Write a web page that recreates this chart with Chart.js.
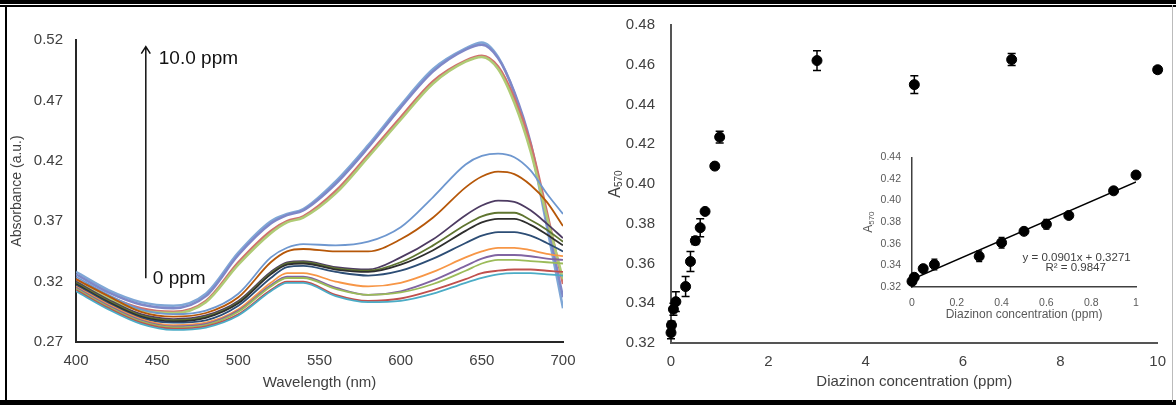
<!DOCTYPE html>
<html>
<head>
<meta charset="utf-8">
<script src="https://cdn.jsdelivr.net/npm/chart.js@4.4.0/dist/chart.umd.min.js"></script>
<style>
  body { margin: 0; background: #fff; }
  #wrap { position: relative; width: 1176px; height: 405px; overflow: hidden; background: #fff; }
  canvas { position: absolute; }
  .rule { position: absolute; background: #000; z-index: 5; }
</style>
</head>
<body>
<div id="wrap">
  <canvas id="spectra" width="590" height="405" style="left:0;top:0"></canvas>
  <canvas id="response" width="586" height="405" style="left:590px;top:0"></canvas>
  <canvas id="inset" width="300" height="185" style="left:855px;top:140px"></canvas>
  <div class="rule" style="left:0;top:0;width:1176px;height:4px"></div>
  <div class="rule" style="left:0;top:5px;width:1176px;height:2px"></div>
  <div class="rule" style="left:5px;top:5px;width:2px;height:397px"></div>
  <div class="rule" style="left:0;top:400px;width:1176px;height:5px"></div>
  <div class="rule" style="left:1172px;top:5px;width:1px;height:397px;background:#bbb"></div>
</div>
<script>
// wavelengths (nm) sampled along each spectrum
var wl = [400, 420, 440, 460, 480, 500, 520, 530, 540, 560, 580, 600, 620, 640, 650, 660, 670, 680, 690, 700];

// absorbance spectra, one array per diazinon concentration
var s0    = [0.312, 0.297, 0.285, 0.280, 0.282, 0.292, 0.312, 0.319, 0.319, 0.308, 0.303, 0.304, 0.310, 0.319, 0.323, 0.326, 0.327, 0.327, 0.326, 0.325];
var s001  = [0.313, 0.298, 0.286, 0.281, 0.283, 0.293, 0.313, 0.320, 0.320, 0.309, 0.304, 0.306, 0.313, 0.322, 0.327, 0.329, 0.330, 0.330, 0.329, 0.328];
var s005  = [0.314, 0.299, 0.287, 0.282, 0.284, 0.295, 0.316, 0.323, 0.323, 0.314, 0.309, 0.311, 0.318, 0.329, 0.335, 0.338, 0.338, 0.337, 0.336, 0.335];
var s01   = [0.315, 0.300, 0.288, 0.283, 0.285, 0.296, 0.317, 0.324, 0.324, 0.315, 0.309, 0.312, 0.321, 0.333, 0.339, 0.342, 0.342, 0.341, 0.339, 0.338];
var s03   = [0.316, 0.301, 0.289, 0.284, 0.286, 0.297, 0.319, 0.327, 0.327, 0.320, 0.316, 0.319, 0.328, 0.340, 0.345, 0.348, 0.348, 0.346, 0.343, 0.341];
var s04   = [0.317, 0.302, 0.290, 0.286, 0.288, 0.300, 0.323, 0.332, 0.333, 0.328, 0.325, 0.329, 0.339, 0.352, 0.358, 0.361, 0.361, 0.358, 0.352, 0.345];
var s05   = [0.318, 0.303, 0.291, 0.287, 0.290, 0.302, 0.326, 0.334, 0.335, 0.330, 0.328, 0.334, 0.346, 0.362, 0.369, 0.372, 0.372, 0.367, 0.359, 0.350];
var s06   = [0.319, 0.304, 0.292, 0.288, 0.291, 0.303, 0.327, 0.335, 0.336, 0.331, 0.329, 0.336, 0.350, 0.367, 0.374, 0.377, 0.377, 0.371, 0.363, 0.353];
var s07   = [0.320, 0.305, 0.293, 0.289, 0.292, 0.304, 0.328, 0.336, 0.337, 0.332, 0.330, 0.340, 0.355, 0.375, 0.383, 0.387, 0.386, 0.379, 0.368, 0.356];
var s09   = [0.322, 0.308, 0.295, 0.291, 0.294, 0.307, 0.336, 0.345, 0.347, 0.345, 0.345, 0.355, 0.373, 0.398, 0.407, 0.411, 0.409, 0.400, 0.386, 0.366];
var s1    = [0.324, 0.309, 0.297, 0.293, 0.296, 0.310, 0.340, 0.348, 0.351, 0.350, 0.353, 0.365, 0.390, 0.417, 0.424, 0.426, 0.423, 0.412, 0.393, 0.376];
var s3    = [0.320, 0.306, 0.296, 0.294, 0.303, 0.334, 0.360, 0.369, 0.373, 0.393, 0.423, 0.454, 0.484, 0.502, 0.506, 0.496, 0.468, 0.428, 0.374, 0.322];
var s5    = [0.322, 0.308, 0.298, 0.295, 0.304, 0.336, 0.362, 0.370, 0.374, 0.395, 0.425, 0.456, 0.486, 0.503, 0.507, 0.498, 0.472, 0.434, 0.378, 0.318];
var s7    = [0.326, 0.311, 0.301, 0.298, 0.308, 0.342, 0.368, 0.375, 0.379, 0.401, 0.431, 0.464, 0.494, 0.512, 0.516, 0.505, 0.477, 0.435, 0.371, 0.307];
var s10   = [0.328, 0.313, 0.303, 0.300, 0.310, 0.344, 0.370, 0.376, 0.380, 0.403, 0.433, 0.466, 0.496, 0.513, 0.518, 0.506, 0.476, 0.432, 0.366, 0.298];

var spectra = [s0, s001, s005, s01, s03, s04, s05, s06, s07, s09, s1, s3, s5, s7, s10];
var spectraLabels = ['0', '0.01', '0.05', '0.1', '0.3', '0.4', '0.5', '0.6', '0.7', '0.9', '1', '3', '5', '7', '10'];
var lineColors = ['#4BACC6', '#C0504D', '#9BBB59', '#8064A2', '#F79646', '#2C4D75', '#2E2E2E', '#5F7530', '#4D3B62',
                  '#B65708', '#6E97CF', '#AFCB75', '#D0706E', '#7F88C8', '#7FA7D6'];
var yTicksSpectra = [0.27, 0.32, 0.37, 0.42, 0.47, 0.52];

// A570 response vs. concentration, with standard deviations
var conc = [0, 0.01, 0.05, 0.1, 0.3, 0.4, 0.5, 0.6, 0.7, 0.9, 1, 3, 5, 7, 10];
var a570 = [0.3252, 0.3290, 0.3370, 0.3408, 0.3484, 0.3610, 0.3715, 0.3780, 0.3862, 0.4090, 0.4236, 0.4621, 0.4500, 0.4626, 0.4575];
var sd   = [0.003, 0.002, 0.003, 0.005, 0.005, 0.005, 0.002, 0.0045, 0.001, 0.001, 0.003, 0.005, 0.0045, 0.003, 0.0015];
var yTicksResponse = [0.32, 0.34, 0.36, 0.38, 0.40, 0.42, 0.44, 0.46, 0.48];
var yTicksInset = [0.32, 0.34, 0.36, 0.38, 0.40, 0.42, 0.44];

// linear fit over 0-1 ppm
var slope = 0.0901, intercept = 0.3271, r2 = 0.9847;

Chart.defaults.font.family = '"Liberation Sans", Arial, sans-serif';
Chart.defaults.animation = false;

var errorBars = {
  id: 'errorBars',
  afterDatasetsDraw: function (chart, args, opts) {
    var ds = chart.data.datasets[0];
    if (!ds.errors) return;
    var ctx = chart.ctx, x = chart.scales.x, y = chart.scales.y;
    ctx.save();
    ctx.strokeStyle = '#000';
    ctx.lineWidth = opts.width;
    ds.data.forEach(function (p, i) {
      var e = ds.errors[i];
      var px = x.getPixelForValue(p.x);
      var top = y.getPixelForValue(p.y + e), bot = y.getPixelForValue(p.y - e);
      ctx.beginPath();
      ctx.moveTo(px, top); ctx.lineTo(px, bot);
      ctx.moveTo(px - opts.cap, top); ctx.lineTo(px + opts.cap, top);
      ctx.moveTo(px - opts.cap, bot); ctx.lineTo(px + opts.cap, bot);
      ctx.stroke();
    });
    ctx.restore();
  }
};

// rotated "A" with a subscript, used as y-axis title
var subTitle = {
  id: 'subTitle',
  afterDraw: function (chart, args, o) {
    var ctx = chart.ctx, area = chart.chartArea;
    ctx.save();
    ctx.fillStyle = o.color;
    ctx.font = o.size + 'px "Liberation Sans", Arial, sans-serif';
    var wMain = ctx.measureText(o.text).width;
    ctx.font = o.subSize + 'px "Liberation Sans", Arial, sans-serif';
    var wSub = ctx.measureText(o.sub).width;
    ctx.translate(area.left - o.dx, (area.top + area.bottom) / 2);
    ctx.rotate(-Math.PI / 2);
    ctx.textBaseline = 'alphabetic';
    ctx.textAlign = 'left';
    var u = -(wMain + wSub) / 2;
    ctx.font = o.size + 'px "Liberation Sans", Arial, sans-serif';
    ctx.fillText(o.text, u, 0);
    ctx.font = o.subSize + 'px "Liberation Sans", Arial, sans-serif';
    ctx.fillText(o.sub, u + wMain, o.drop);
    ctx.restore();
  }
};

// concentration arrow on the spectra panel
var arrowNote = {
  id: 'arrowNote',
  afterDraw: function (chart) {
    var ctx = chart.ctx, x = chart.scales.x, y = chart.scales.y;
    var px = x.getPixelForValue(443);
    var top = y.getPixelForValue(0.5145), bot = y.getPixelForValue(0.3227);
    ctx.save();
    ctx.strokeStyle = '#111';
    ctx.lineWidth = 1.5;
    ctx.beginPath();
    ctx.moveTo(px, bot); ctx.lineTo(px, top);
    ctx.moveTo(px - 4.5, top + 7); ctx.lineTo(px, top); ctx.lineTo(px + 4.5, top + 7);
    ctx.stroke();
    ctx.fillStyle = '#111';
    ctx.font = '19px "Liberation Sans", Arial, sans-serif';
    ctx.textBaseline = 'middle';
    ctx.fillText('10.0 ppm', px + 13, top + 12);
    ctx.fillText('0 ppm', px + 7, bot);
    ctx.restore();
  }
};

var fitLabel = {
  id: 'fitLabel',
  afterDraw: function (chart) {
    var ctx = chart.ctx, x = chart.scales.x, y = chart.scales.y;
    var cx = x.getPixelForValue(0.735);
    ctx.save();
    ctx.fillStyle = '#404040';
    ctx.font = '11.5px "Liberation Sans", Arial, sans-serif';
    ctx.textAlign = 'center';
    ctx.textBaseline = 'middle';
    ctx.fillText('y = ' + slope.toFixed(4) + 'x + ' + intercept.toFixed(4), cx, y.getPixelForValue(0.3473));
    ctx.fillText('R² = ' + r2.toFixed(4), cx - 1, y.getPixelForValue(0.3377));
    ctx.restore();
  }
};

function fixedTicks(list) {
  return function (s) { s.ticks = list.map(function (v) { return { value: v }; }); };
}

// left panel: absorbance spectra
var spectraSets = spectra.map(function (s, i) {
  return {
    label: spectraLabels[i] + ' ppm',
    data: wl.map(function (w, j) { return { x: w, y: s[j] }; }),
    borderColor: lineColors[i],
    borderWidth: i >= 11 ? 2.5 : 1.8,
    pointRadius: 0,
    cubicInterpolationMode: 'monotone',
    fill: false
  };
});

new Chart(document.getElementById('spectra'), {
  type: 'line',
  data: { datasets: spectraSets },
  plugins: [arrowNote],
  options: {
    responsive: false,
    layout: { padding: { left: 0, top: 40, right: 27, bottom: 0 } },
    plugins: { legend: { display: false }, tooltip: { enabled: false } },
    scales: {
      x: {
        type: 'linear', min: 400, max: 700,
        ticks: { stepSize: 50, padding: 10, color: '#404040', font: { size: 15 } },
        grid: { display: false, drawTicks: false },
        border: { color: '#262626', width: 2 },
        title: { display: true, text: 'Wavelength (nm)', color: '#404040', font: { size: 15 }, padding: { top: 0, bottom: 13 } },
        afterFit: function (s) { s.height = 63; }
      },
      y: {
        min: 0.27, max: 0.52,
        afterBuildTicks: fixedTicks(yTicksSpectra),
        ticks: { padding: 13, color: '#404040', font: { size: 15 }, callback: function (v) { return v.toFixed(2); } },
        grid: { display: false, drawTicks: false },
        border: { color: '#262626', width: 2 },
        title: { display: true, text: 'Absorbance (a.u.)', color: '#404040', font: { size: 14 }, padding: { top: 9, bottom: 0 } },
        afterFit: function (s) { s.width = 76; }
      }
    }
  }
});

// right panel: A570 vs concentration
new Chart(document.getElementById('response'), {
  type: 'scatter',
  data: {
    datasets: [{
      data: conc.map(function (c, i) { return { x: c, y: a570[i] }; }),
      errors: sd,
      pointRadius: 5,
      backgroundColor: '#000',
      borderColor: '#000',
      clip: false
    }]
  },
  plugins: [errorBars, subTitle],
  options: {
    responsive: false,
    layout: { padding: { left: 0, top: 25, right: 16, bottom: 0 } },
    plugins: {
      legend: { display: false }, tooltip: { enabled: false },
      errorBars: { width: 1.5, cap: 4 },
      subTitle: { text: 'A', sub: '570', size: 16, subSize: 10, dx: 51, drop: 2, color: '#404040' }
    },
    scales: {
      x: {
        type: 'linear', min: 0, max: 10,
        ticks: { stepSize: 2, padding: 10, color: '#404040', font: { size: 15 } },
        grid: { display: false, drawTicks: false },
        border: { color: '#555', width: 2 },
        title: { display: true, text: 'Diazinon concentration (ppm)', color: '#404040', font: { size: 15 }, padding: { top: 0, bottom: 14 } },
        afterFit: function (s) { s.height = 62; }
      },
      y: {
        min: 0.32, max: 0.48,
        afterBuildTicks: fixedTicks(yTicksResponse),
        ticks: { padding: 16, color: '#404040', font: { size: 15 }, callback: function (v) { return v.toFixed(2); } },
        grid: { display: false, drawTicks: false },
        border: { color: '#555', width: 2 },
        afterFit: function (s) { s.width = 81; }
      }
    }
  }
});

// inset: linear range 0-1 ppm with fit line
var lowConc = conc.filter(function (c) { return c <= 1; });
new Chart(document.getElementById('inset'), {
  type: 'scatter',
  data: {
    datasets: [{
      data: lowConc.map(function (c, i) { return { x: c, y: a570[i] }; }),
      errors: sd.slice(0, lowConc.length),
      pointRadius: 5,
      backgroundColor: '#000',
      borderColor: '#000',
      clip: false
    }, {
      data: [{ x: 0, y: intercept }, { x: 1, y: slope + intercept }],
      showLine: true,
      pointRadius: 0,
      borderColor: '#000',
      borderWidth: 1.5
    }]
  },
  plugins: [errorBars, subTitle, fitLabel],
  options: {
    responsive: false,
    layout: { padding: { left: 0, top: 10, right: 19, bottom: 0 } },
    plugins: {
      legend: { display: false }, tooltip: { enabled: false },
      errorBars: { width: 1.2, cap: 3 },
      subTitle: { text: 'A', sub: '570', size: 12, subSize: 8, dx: 40, drop: 1.5, color: '#595959' }
    },
    scales: {
      x: {
        type: 'linear', min: 0, max: 1,
        ticks: { stepSize: 0.2, padding: 10, color: '#595959', font: { size: 10.5 },
                 callback: function (v) { return String(Number(v.toFixed(1))); } },
        grid: { display: false, drawTicks: false },
        border: { color: '#404040', width: 1.5 },
        title: { display: true, text: 'Diazinon concentration (ppm)', color: '#595959', font: { size: 12 }, padding: { top: 0, bottom: 3 } },
        afterFit: function (s) { s.height = 38; }
      },
      y: {
        min: 0.32, max: 0.44,
        afterBuildTicks: fixedTicks(yTicksInset),
        ticks: { padding: 11, color: '#595959', font: { size: 10.5 }, callback: function (v) { return v.toFixed(2); } },
        grid: { display: false, drawTicks: false },
        border: { color: '#404040', width: 1.5 },
        afterFit: function (s) { s.width = 57; }
      }
    }
  }
});
</script>
</body>
</html>
